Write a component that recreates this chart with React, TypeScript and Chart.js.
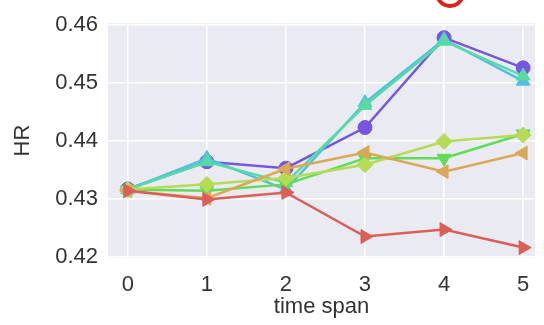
import React, { useEffect, useRef } from "react";
import { Chart, registerables } from "chart.js";

Chart.register(...registerables);

const timeSpans = [0, 1, 2, 3, 4, 5];
const yTicks = [0.42, 0.43, 0.44, 0.45, 0.46];

const redVals = [0.4314, 0.4299, 0.4311, 0.4235, 0.4247, 0.4216];
const orangeVals = [0.4314, 0.4301, 0.4352, 0.4380, 0.4347, 0.4379];
const limeVals = [0.4316, 0.4325, 0.4336, 0.4359, 0.4399, 0.4410];
const greenVals = [0.4316, 0.4314, 0.4325, 0.4370, 0.4370, 0.4412];
const tealVals = [0.4316, 0.4364, 0.4328, 0.4461, 0.4572, 0.4512];
const cyanVals = [0.4316, 0.4370, 0.4316, 0.4466, 0.4575, 0.4503];
const purpleVals = [0.4317, 0.4364, 0.4353, 0.4423, 0.4578, 0.4526];

const seriesDefs = [
  { label: "red", data: redVals, color: "#db5f57", style: "triangle", rot: 90 },
  { label: "orange", data: orangeVals, color: "#dba857", style: "triangle", rot: -90 },
  { label: "lime", data: limeVals, color: "#b5db57", style: "rectRot", rot: 0 },
  { label: "green", data: greenVals, color: "#62db57", style: "triangle", rot: 180 },
  { label: "teal", data: tealVals, color: "#57dba5", style: "triangle", rot: 0 },
  { label: "cyan", data: cyanVals, color: "#52bfe0", style: "triangle", rot: 0 },
  { label: "purple", data: purpleVals, color: "#7656de", style: "circle", rot: 0 },
];

const bgPlugin = {
  id: "bg",
  beforeDraw(chart: any) {
    const { ctx, chartArea } = chart;
    ctx.save();
    ctx.fillStyle = "#eaeaf2";
    ctx.fillRect(chartArea.left, chartArea.top, chartArea.right - chartArea.left, chartArea.bottom - chartArea.top);
    ctx.restore();
  },
  afterDraw(chart: any) {
    const { ctx } = chart;
    ctx.save();
    ctx.strokeStyle = "#e0201a";
    ctx.lineWidth = 4;
    ctx.beginPath();
    ctx.ellipse(450, -7, 13, 13, 0, 0, Math.PI * 2);
    ctx.stroke();
    ctx.restore();
  },
};

const font = { family: "Liberation Sans, Arial", size: 22 };

export default function App() {
  const ref = useRef<HTMLCanvasElement>(null);
  useEffect(() => {
    if (!ref.current) return;
    const chart = new Chart(ref.current, {
      type: "line",
      data: {
        datasets: seriesDefs.map((s) => ({
          label: s.label,
          data: timeSpans.map((x, i) => ({ x, y: s.data[i] })),
          borderColor: s.color,
          backgroundColor: s.color,
          borderWidth: 2.5,
          pointStyle: s.style as any,
          pointRotation: s.rot,
          pointRadius: s.style === "circle" ? 7 : 8,
          pointBorderWidth: 1,
          tension: 0,
        })),
      },
      options: {
        animation: false,
        responsive: false,
        layout: { padding: { top: 23, right: 4, left: 0, bottom: 0 } },
        plugins: { legend: { display: false }, tooltip: { enabled: false } },
        scales: {
          x: {
            type: "linear",
            min: -0.25,
            max: 5.15,
            afterBuildTicks(scale: any) {
              scale.ticks = timeSpans.map((v) => ({ value: v }));
            },
            afterFit(scale: any) {
              scale.height = 67;
            },
            grid: { color: "#ffffff", lineWidth: 1.5, drawTicks: false },
            border: { display: false },
            ticks: {
              color: "#333333",
              font,
              padding: 14,
              callback: (v: any) => String(v),
            },
            title: {
              display: true,
              text: "time span",
              color: "#333333",
              font,
              padding: { top: 0, bottom: 5 },
            },
          },
          y: {
            type: "linear",
            min: 0.4198,
            max: 0.4603,
            afterBuildTicks(scale: any) {
              scale.ticks = yTicks.map((v) => ({ value: v }));
            },
            afterFit(scale: any) {
              scale.width = 108;
            },
            grid: { color: "#ffffff", lineWidth: 1.5, drawTicks: false },
            border: { display: false },
            ticks: {
              color: "#333333",
              font,
              padding: 10,
              callback: (v: any) => Number(v).toFixed(2),
            },
            title: {
              display: true,
              text: "HR",
              color: "#333333",
              font,
              padding: { top: 10, bottom: 0 },
            },
          },
        },
      },
      plugins: [bgPlugin],
    });
    return () => chart.destroy();
  }, []);
  return (
    <div style={{ position: "fixed", left: 0, top: 0, width: 544, height: 325, background: "#fff" }}>
      <canvas ref={ref} width={544} height={325} style={{ width: 544, height: 325, display: "block" }} />
    </div>
  );
}
